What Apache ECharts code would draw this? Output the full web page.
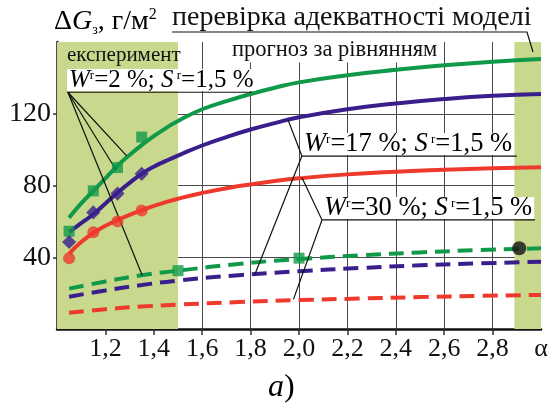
<!DOCTYPE html>
<html>
<head>
<meta charset="utf-8">
<script src="https://cdn.jsdelivr.net/npm/echarts@6/dist/echarts.min.js"></script>
<style>
  html, body { margin: 0; padding: 0; background: #fff; }
  #chart { width: 555px; height: 410px; }
</style>
</head>
<body>
<div id="chart"></div>
<script>
// x positions of the fitted curves (alpha)
const fitX = [1.05, 1.1, 1.15, 1.2, 1.25, 1.3, 1.35, 1.4, 1.45, 1.5, 1.6, 1.7, 1.8, 1.9, 2.0, 2.2, 2.4, 2.6, 2.8, 3.0];
// solid curves (experiment fit), W=2 %, 17 %, 30 %
const green = [62, 70, 77, 84, 91, 97, 102.5, 107.5, 112, 116, 122.5, 127, 131, 134.5, 137.5, 141.5, 144.5, 147, 149, 150.5];
const purple = [54, 59, 64, 70, 76, 81.5, 86.5, 90.5, 93.7, 96.7, 102.3, 107, 111.2, 114.8, 118, 122.5, 125.7, 128.2, 130, 131];
const red = [42, 48.5, 53.5, 57.5, 60.7, 63.6, 66.2, 68.6, 70.7, 72.6, 75.8, 78.5, 80.6, 82.5, 84, 86.2, 87.7, 88.8, 89.6, 90.2];

// dashed curves (forecast by equation)
const dashX = [1.05, 1.2, 1.35, 1.5, 1.75, 2.0, 2.25, 2.5, 2.75, 3.0];
const greenDash = [22.5, 26.5, 30, 32.5, 36.3, 39, 41, 42.7, 44, 45];
const purpleDash = [18, 21.5, 24.5, 27, 30, 32.2, 34, 35.5, 36.6, 37.5];
const redDash = [9, 11, 12.5, 13.6, 15, 16.1, 17, 17.8, 18.5, 19];

// experimental points
const expX = [1.05, 1.15, 1.25, 1.35];
const greenExp = [54.5, 77, 90, 107];
const purpleExp = [48.5, 65, 75.5, 86.5];
const redExp = [39.5, 54, 60, 66];
const checkX = [1.5, 2.0];
const greenCheck = [32.5, 39.5];
const blackCheckX = [2.91];
const blackCheck = [45];

// axis ticks
const xTicks = [1.2, 1.4, 1.6, 1.8, 2.0, 2.2, 2.4, 2.6, 2.8];
const yTicks = [40, 80, 120];

// shaded zones: experiment / model check
const zones = [[1.0, 1.5], [2.89, 3.0]];

// leader lines from the labels, in data units
const leaders = [
  [[1.288, 96.5], [1.045, 132], [1.806, 132]],
  [[1.245, 88.5], [1.045, 132]],
  [[1.352, 30], [1.045, 132]],
  [[1.955, 116.5], [2.012, 96.4], [2.90, 96.4]],
  [[1.818, 30.5], [2.012, 96.4]],
  [[2.012, 84.5], [2.095, 60.8], [2.975, 60.8]],
  [[1.977, 16.5], [2.095, 60.8]]
];

const serif = 'Liberation Serif';
const ink = '#111';
const cGreen = '#11994a';
const cPurple = '#3a1f8c';
const cRed = '#ee3a2c';
const cShade = '#c8d98e';

function pairs (xs, ys) {
  return xs.map((x, i) => [x, ys[i]]);
}

function wLabel (x, y, w, size) {
  return {
    type: 'text',
    x: x,
    y: y,
    z: 20,
    style: {
      text: '{i|W}{s|r}{n|=' + w + ' %; }{i|S}{s| r}{n|=1,5 %}',
      rich: {
        i: { fontFamily: serif, fontStyle: 'italic', fontSize: size, lineHeight: 22, color: ink },
        n: { fontFamily: serif, fontSize: size, lineHeight: 22, color: ink },
        s: { fontFamily: serif, fontSize: 13, lineHeight: 12, verticalAlign: 'top', color: ink }
      },
      verticalAlign: 'middle',
      backgroundColor: '#fff',
      padding: [0, 2, 0, 2]
    }
  };
}

function plainText (x, y, text, size, bg) {
  return {
    type: 'text',
    x: x,
    y: y,
    z: 20,
    style: {
      text: text,
      fontFamily: serif,
      fontSize: size,
      fill: ink,
      verticalAlign: 'middle',
      backgroundColor: bg || 'transparent',
      padding: bg ? [1, 2, 1, 2] : 0
    }
  };
}

const chart = echarts.init(document.getElementById('chart'));

const lineSeries = (xs, ys, color, dashed) => ({
  type: 'line',
  data: pairs(xs, ys),
  smooth: 0.5,
  showSymbol: false,
  z: 3,
  lineStyle: { color: color, width: 4, type: dashed ? [15, 8] : 'solid' }
});

const option = {
  animation: false,
  grid: { left: 57, right: 14, top: 42, bottom: 81 },
  xAxis: {
    type: 'value',
    min: 1.0,
    max: 3.0,
    interval: 0.2,
    axisLine: { show: true, onZero: false, lineStyle: { color: ink, width: 2.5 } },
    axisTick: { show: true, length: 6, customValues: xTicks, lineStyle: { color: '#333', width: 1.5 } },
    axisLabel: {
      customValues: xTicks.concat([3.0]),
      margin: 7,
      fontFamily: serif,
      fontSize: 26,
      color: ink,
      formatter: v => (v > 2.95 ? 'α' : v.toFixed(1).replace('.', ','))
    },
    splitLine: { show: true, lineStyle: { color: '#4a4a4a', width: 1 } }
  },
  yAxis: {
    type: 'value',
    min: 0,
    max: 160,
    interval: 40,
    axisLine: { show: true, lineStyle: { color: ink, width: 2.5 } },
    axisTick: { show: true, length: 4, customValues: yTicks, lineStyle: { color: '#333', width: 1.5 } },
    axisLabel: {
      customValues: yTicks,
      margin: 6,
      fontFamily: serif,
      fontSize: 28,
      color: ink
    },
    splitLine: { show: true, lineStyle: { color: '#4a4a4a', width: 1 } }
  },
  series: [
    {
      type: 'line',
      data: [],
      z: -1,
      silent: true,
      markArea: {
        silent: true,
        itemStyle: { color: cShade },
        data: zones.map(z => [{ xAxis: z[0] }, { xAxis: z[1] }])
      }
    },
    lineSeries(fitX, green, cGreen, false),
    lineSeries(fitX, purple, cPurple, false),
    lineSeries(fitX, red, cRed, false),
    lineSeries(dashX, greenDash, cGreen, true),
    lineSeries(dashX, purpleDash, cPurple, true),
    lineSeries(dashX, redDash, cRed, true),
    {
      type: 'lines',
      coordinateSystem: 'cartesian2d',
      polyline: true,
      silent: true,
      z: 4,
      lineStyle: { color: ink, width: 1.2, opacity: 1 },
      data: leaders.map(c => ({ coords: c }))
    },
    {
      type: 'scatter', z: 5, symbol: 'rect', symbolSize: 11,
      itemStyle: { color: cGreen }, data: pairs(expX, greenExp)
    },
    {
      type: 'scatter', z: 5, symbol: 'rect', symbolSize: 11,
      itemStyle: { color: cGreen }, data: pairs(checkX, greenCheck)
    },
    {
      type: 'scatter', z: 5, symbol: 'rect', symbolSize: 10, symbolRotate: 45,
      itemStyle: { color: cPurple }, data: pairs(expX, purpleExp)
    },
    {
      type: 'scatter', z: 5, symbol: 'circle', symbolSize: 12,
      itemStyle: { color: cRed }, data: pairs(expX, redExp)
    },
    {
      type: 'scatter', z: 5, symbol: 'circle', symbolSize: 14,
      itemStyle: { color: ink }, data: pairs(blackCheckX, blackCheck)
    }
  ],
  graphic: [
    {
      type: 'text', x: 54, y: 22, z: 20,
      style: {
        text: '{n|Δ}{i|G}{sub|з}{n|, г/м}{sup|2}',
        verticalAlign: 'middle',
        rich: {
          n: { fontFamily: serif, fontSize: 28, lineHeight: 30, color: ink },
          i: { fontFamily: serif, fontStyle: 'italic', fontSize: 28, lineHeight: 30, color: ink },
          sub: { fontFamily: serif, fontSize: 14, lineHeight: 13, verticalAlign: 'bottom', color: ink },
          sup: { fontFamily: serif, fontSize: 16, lineHeight: 15, verticalAlign: 'top', color: ink }
        }
      }
    },
    plainText(172, 18, 'перевірка адекватності моделі', 28),
    {
      type: 'polyline', z: 20,
      shape: { points: [[172, 32], [527, 32], [533, 52]] },
      style: { stroke: ink, lineWidth: 1.2, fill: null }
    },
    plainText(67, 55, 'експеримент', 21),
    plainText(230, 50, 'прогноз за рівнянням', 22.5, '#fff'),
    wLabel(67, 80, '2', 25),
    wLabel(302, 144, '17', 26.5),
    wLabel(322, 208, '30', 26.5),
    {
      type: 'text', x: 268, y: 388, z: 20,
      style: {
        text: '{i|a}{n|)}',
        verticalAlign: 'middle',
        rich: {
          i: { fontFamily: serif, fontStyle: 'italic', fontSize: 32, color: ink },
          n: { fontFamily: serif, fontSize: 32, color: ink }
        }
      }
    }
  ]
};

chart.setOption(option);
</script>
</body>
</html>
